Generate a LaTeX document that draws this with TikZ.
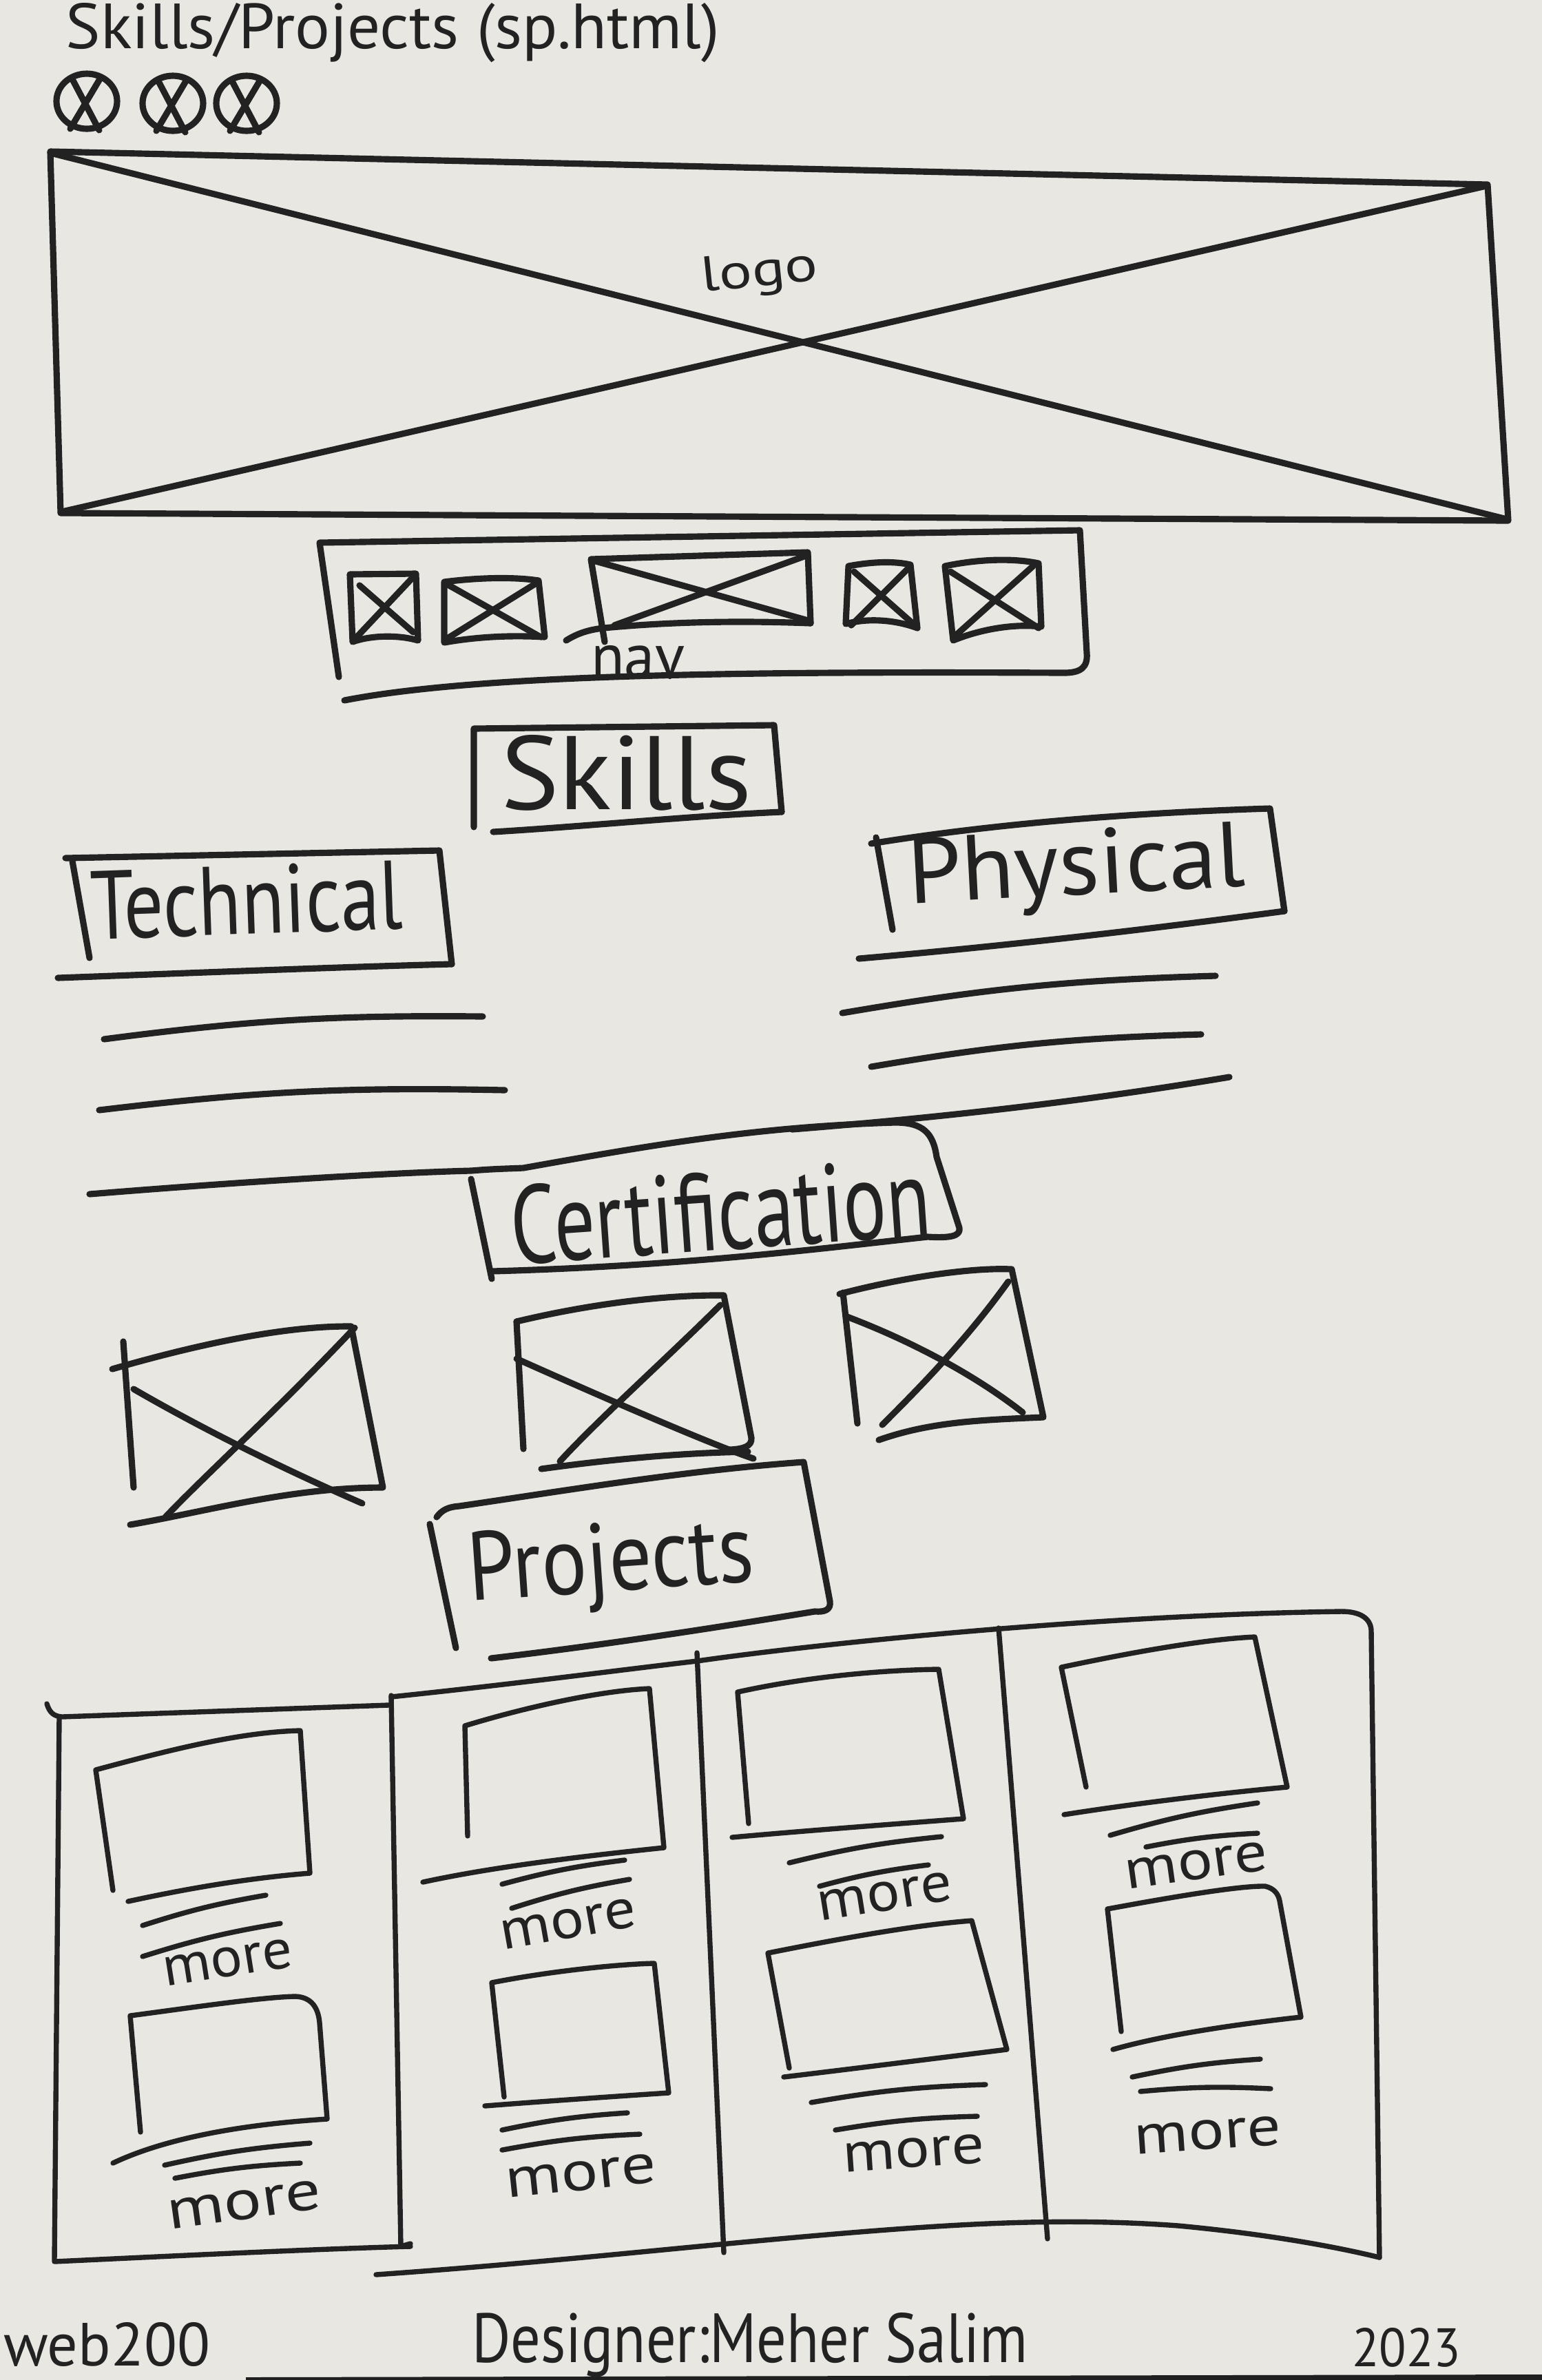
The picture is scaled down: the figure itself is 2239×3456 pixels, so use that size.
\documentclass[tikz,border=0pt]{standalone}
\usepackage{fontspec}
\setmainfont{PT Sans}
\definecolor{paper}{RGB}{233,231,226}
\definecolor{ink}{RGB}{34,34,34}
% hand lettering squeezed to a given width and height
\newcommand{\scribble}[3]{\resizebox{#1}{#2}{#3}}
\begin{document}
\begin{tikzpicture}[x=0.01cm, y=-0.01cm, line cap=round, line join=round,
  pen/.style={draw=ink, line width=2.6pt},
  fine/.style={draw=ink, line width=2.1pt},
  sway/.style={bend left=4},
  word/.style={inner sep=0pt, outer sep=0pt, text=ink, anchor=base},
  wordw/.style={word, anchor=base west},
]
\useasboundingbox (0,0) rectangle (2239,3456);
\fill[paper] (0,0) rectangle (2239,3456);
\fill[ink!90!black] (357,3452) -- (2239,3448) -- (2239,3456) -- (357,3456) -- cycle;

% ---------- page title and window buttons ----------
\node[wordw] (title) at (96,70) {\scribble{9.48cm}{0.66cm}{Skills/Projects (sp.html)}};
\foreach \cx/\cy in {126/147, 251/150, 358/150}{
  \draw[pen] (\cx,\cy) ellipse [x radius=44, y radius=40];
  \draw[pen] (\cx-22,\cy-34) -- (\cx+18,\cy+42);
  \draw[pen] (\cx+20,\cy-34) -- (\cx-24,\cy+40);
}

% ---------- logo banner ----------
\draw[pen] (73,220) -- (2160,268) -- (2190,756) -- (88,745) -- cycle;
\draw[pen] (73,222) -- (2188,754);
\draw[pen] (90,743) -- (2158,270);
\node[word, rotate=6] (logo) at (1105,415) {\scribble{1.7cm}{0.5cm}{logo}};

% ---------- navigation bar ----------
\draw[pen] (492,983) -- (464,788) -- (1568,770) -- (1578,948)
  .. controls (1580,970) and (1568,977) .. (1545,977)
  .. controls (1100,975) and (700,978) .. (500,1017);
% icon 1
\draw[pen] (508,834) -- (604,833) -- (607,930) .. controls (580,922) and (540,922) .. (512,932) -- cycle;
\draw[pen] (522,850) -- (600,918);
\draw[pen] (598,840) -- (518,925);
% icon 2
\draw[pen] (645,845) .. controls (700,838) and (750,838) .. (782,843) -- (791,925)
  .. controls (740,922) and (690,925) .. (645,933) -- cycle;
\draw[pen] (652,850) -- (785,925);
\draw[pen] (780,846) -- (648,928);
% wide icon
\draw[pen] (878,932) -- (858,812) -- (1173,802) -- (1177,905);
\draw[pen] (1177,905) .. controls (1050,900) and (950,905) .. (876,912) .. controls (850,915) and (835,922) .. (822,930);
\draw[pen] (865,815) -- (1177,902);
\draw[pen] (1173,806) -- (892,908);
\node[wordw] (nav) at (858,985) {\scribble{1.36cm}{0.48cm}{nav}};
% icon 4
\draw[pen] (1232,822) .. controls (1270,815) and (1300,815) .. (1322,820) -- (1332,912)
  .. controls (1300,900) and (1260,897) .. (1228,906) -- cycle;
\draw[pen] (1240,830) -- (1325,905);
\draw[pen] (1318,826) -- (1236,908);
% icon 5
\draw[pen] (1372,822) .. controls (1420,812) and (1470,810) .. (1508,818) -- (1512,910)
  .. controls (1470,905) and (1420,915) .. (1384,930) -- cycle;
\draw[pen] (1380,830) -- (1508,912);
\draw[pen] (1500,822) -- (1385,925);

% ---------- Skills heading ----------
\draw[pen] (688,1201) -- (688,1058) -- (1124,1053) -- (1135,1179);
\draw[pen] (716,1208) .. controls (850,1200) and (1000,1185) .. (1135,1179);
\node[wordw] (skills) at (727,1175) {\scribble{3.64cm}{1.08cm}{Skills}};

% ---------- Technical column ----------
\draw[pen] (105,1250) -- (130,1391);
\draw[pen] (95,1246) -- (638,1235) -- (656,1400);
\draw[pen] (84,1420) .. controls (300,1412) and (500,1404) .. (656,1400);
\node[wordw, rotate=2] (technical) at (133,1364) {\scribble{4.53cm}{1.0cm}{Technical}};
\draw[pen] (151,1509) to[sway] (701,1476);
\draw[pen] (144,1612) to[sway] (733,1583);

% ---------- Physical column ----------
\draw[pen] (1272,1216) -- (1296,1350);
\draw[pen] (1265,1225) .. controls (1450,1195) and (1650,1180) .. (1844,1174) -- (1865,1323);
\draw[pen] (1247,1392) .. controls (1500,1370) and (1700,1345) .. (1865,1323);
\node[wordw, rotate=3] (physical) at (1320,1312) {\scribble{4.9cm}{0.95cm}{Physical}};
\draw[pen] (1223,1471) to[sway] (1765,1417);
\draw[pen] (1265,1549) to[sway] (1744,1502);
\draw[pen] (1150,1640) .. controls (1400,1620) and (1600,1595) .. (1785,1564);

% ---------- Certification heading (joined to the last text line) ----------
\draw[pen] (130,1734) .. controls (400,1712) and (600,1702) .. (684,1700)
  .. controls (720,1697) and (740,1697) .. (760,1696)
  .. controls (950,1662) and (1100,1636) .. (1300,1630)
  .. controls (1340,1630) and (1355,1645) .. (1360,1680) -- (1393,1783)
  .. controls (1395,1795) and (1380,1798) .. (1347,1796)
  .. controls (1200,1812) and (1000,1838) .. (714,1846);
\draw[pen] (684,1712) -- (714,1857);
\node[word, rotate=4] (certification) at (1050,1815) {\scribble{6.1cm}{1.15cm}{Certification}};

% certificate images
\draw[pen] (179,1948) -- (194,2160);
\draw[pen] (163,1988) .. controls (260,1960) and (400,1925) .. (510,1926) -- (556,2160)
  .. controls (420,2160) and (300,2195) .. (189,2214);
\draw[pen] (194,2017) .. controls (320,2090) and (450,2150) .. (526,2183);
\draw[pen] (515,1928) .. controls (400,2050) and (300,2140) .. (240,2203);

\draw[pen] (750,1919) -- (760,2104);
\draw[pen] (750,1919) .. controls (850,1895) and (960,1880) .. (1051,1881) -- (1091,2088)
  .. controls (1092,2100) and (1080,2104) .. (1060,2105);
\draw[pen] (786,2133) .. controls (880,2120) and (980,2110) .. (1086,2108);
\draw[pen] (750,1973) .. controls (900,2040) and (1040,2100) .. (1094,2118);
\draw[pen] (1046,1895) .. controls (960,1980) and (870,2060) .. (813,2122);

\draw[pen] (1224,1877) -- (1245,2067);
\draw[pen] (1219,1879) .. controls (1290,1860) and (1400,1840) .. (1469,1843) -- (1515,2058)
  .. controls (1420,2062) and (1350,2065) .. (1276,2091);
\draw[pen] (1230,1912) .. controls (1330,1950) and (1420,2000) .. (1485,2051);
\draw[pen] (1464,1861) .. controls (1400,1950) and (1330,2020) .. (1281,2069);

% ---------- Projects heading ----------
\draw[pen] (624,2213) -- (662,2393);
\draw[pen] (634,2203) .. controls (642,2192) and (652,2188) .. (667,2187)
  .. controls (850,2160) and (1000,2135) .. (1167,2123) -- (1205,2325)
  .. controls (1207,2338) and (1197,2341) .. (1183,2340)
  .. controls (1000,2370) and (850,2392) .. (713,2408);
\node[word, rotate=4] (projects) at (890,2310) {\scribble{4.15cm}{1.0cm}{Projects}};

% ---------- project panel ----------
\draw[fine] (68,2474) .. controls (72,2487) and (78,2492) .. (90,2493) -- (564,2476);
\draw[fine] (86,2494) -- (79,3284) .. controls (250,3276) and (450,3266) .. (596,3262);
\draw[fine] (568,2462) -- (582,3262) -- (596,3258);
\draw[fine] (568,2464) .. controls (750,2445) and (900,2425) .. (1012,2412)
  .. controls (1200,2385) and (1600,2345) .. (1948,2340)
  .. controls (1975,2340) and (1990,2350) .. (1991,2367) -- (2003,3278);
\draw[fine] (1012,2400) -- (1051,3271);
\draw[fine] (1450,2364) -- (1521,3251);
\draw[fine] (546,3303) .. controls (800,3285) and (1000,3262) .. (1200,3245)
  .. controls (1400,3228) and (1550,3220) .. (1711,3232)
  .. controls (1850,3245) and (1950,3265) .. (2003,3278);

% column 1
\draw[fine] (164,2745) -- (139,2570) .. controls (250,2540) and (350,2515) .. (436,2513) -- (450,2720)
  .. controls (350,2728) and (260,2745) .. (186,2761);
\draw[fine] (207,2796) to[sway] (386,2752);
\draw[fine] (207,2841) to[sway] (407,2793);
\node[word, rotate=9] (more1a) at (334,2870) {\scribble{1.9cm}{0.42cm}{more}};
\draw[fine] (204,3096) -- (189,2927) .. controls (280,2915) and (380,2900) .. (429,2899)
  .. controls (452,2900) and (462,2915) .. (464,2937) -- (475,3077)
  .. controls (350,3085) and (240,3105) .. (164,3141);
\draw[fine] (239,3144) to[sway] (450,3112);
\draw[fine] (254,3163) to[sway] (436,3141);
\node[word, rotate=8] (more1b) at (358,3222) {\scribble{2.25cm}{0.42cm}{more}};

% column 2
\draw[fine] (679,2666) -- (675,2506) .. controls (760,2480) and (870,2455) .. (943,2452) -- (964,2683)
  .. controls (850,2695) and (720,2710) .. (614,2733);
\draw[fine] (729,2736) to[sway] (907,2701);
\draw[fine] (743,2771) to[sway] (914,2729);
\node[word, rotate=10] (more2a) at (829,2814) {\scribble{2.0cm}{0.42cm}{more}};
\draw[fine] (732,3045) -- (714,2879) .. controls (800,2862) and (900,2852) .. (950,2851) -- (971,3039)
  .. controls (880,3045) and (780,3052) .. (704,3058);
\draw[fine] (729,3093) to[sway] (911,3068);
\draw[fine] (729,3122) to[sway] (929,3099);
\node[word, rotate=6] (more2b) at (846,3180) {\scribble{2.2cm}{0.42cm}{more}};

% column 3
\draw[fine] (1087,2648) -- (1071,2457) .. controls (1170,2435) and (1280,2425) .. (1363,2424) -- (1399,2641)
  .. controls (1280,2650) and (1150,2660) .. (1063,2668);
\draw[fine] (1146,2705) to[sway] (1367,2667);
\draw[fine] (1190,2739) to[sway] (1348,2708);
\node[word, rotate=9] (more3a) at (1288,2774) {\scribble{1.97cm}{0.42cm}{more}};
\draw[fine] (1146,3003) -- (1115,2836) .. controls (1220,2815) and (1330,2795) .. (1411,2789) -- (1462,2976)
  .. controls (1350,2990) and (1230,3005) .. (1138,3016);
\draw[fine] (1178,3053) to[sway] (1431,3027);
\draw[fine] (1213,3093) to[sway] (1419,3073);
\node[word, rotate=4] (more3b) at (1328,3147) {\scribble{2.06cm}{0.42cm}{more}};

% column 4
\draw[fine] (1577,2595) -- (1541,2421) .. controls (1640,2400) and (1750,2380) .. (1822,2377) -- (1869,2595)
  .. controls (1760,2605) and (1640,2620) .. (1545,2635);
\draw[fine] (1612,2665) to[sway] (1826,2618);
\draw[fine] (1664,2682) to[sway] (1826,2662);
\node[word, rotate=8] (more4a) at (1740,2729) {\scribble{2.09cm}{0.42cm}{more}};
\draw[fine] (1628,2950) -- (1608,2772) .. controls (1700,2755) and (1800,2738) .. (1837,2739)
  .. controls (1850,2742) and (1856,2750) .. (1858,2760) -- (1889,2929)
  .. controls (1790,2940) and (1690,2955) .. (1616,2976);
\draw[fine] (1644,3016) to[sway] (1830,2990);
\draw[fine] (1656,3037) to[sway] (1845,3033);
\node[word, rotate=4] (more4b) at (1755,3121) {\scribble{2.13cm}{0.42cm}{more}};

% ---------- footer ----------
\node[wordw] (course) at (5,3435) {\scribble{3.0cm}{0.63cm}{web200}};
\node[wordw] (designer) at (685,3430) {\scribble{8.07cm}{0.72cm}{Designer:Meher Salim}};
\node[wordw] (year) at (1963,3436) {\scribble{1.58cm}{0.56cm}{2023}};
\end{tikzpicture}
\end{document}
